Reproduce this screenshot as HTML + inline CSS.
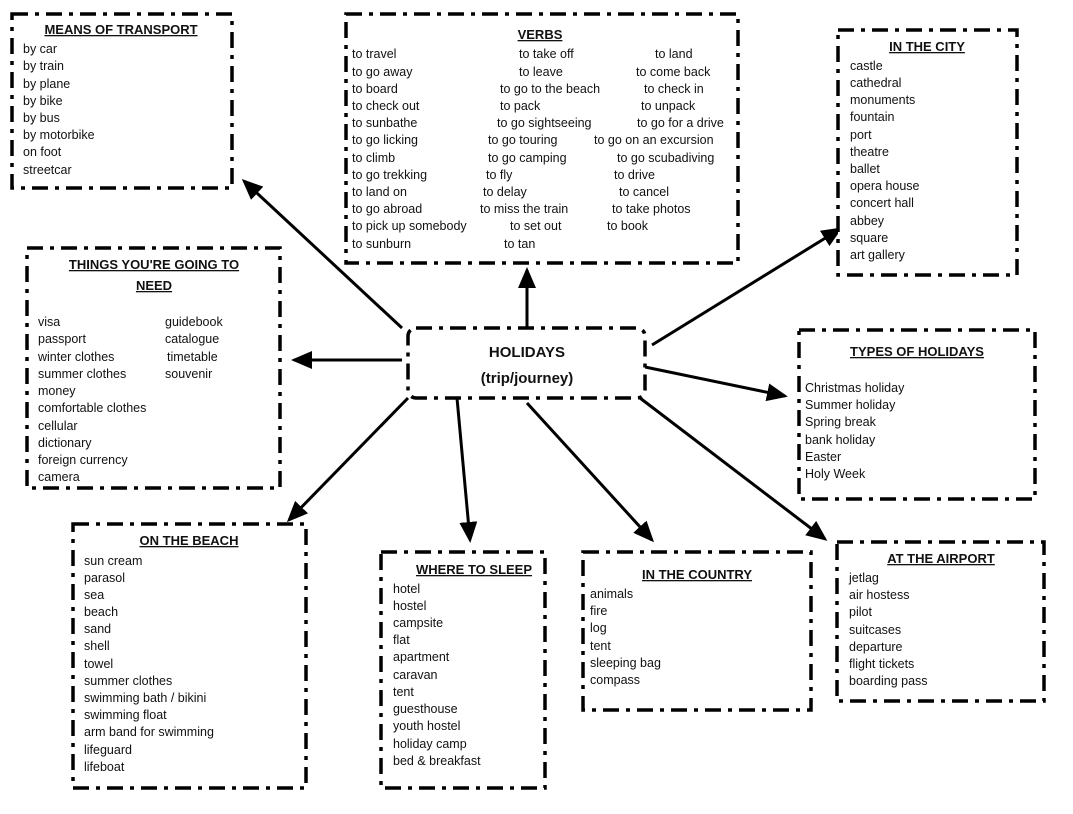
<!DOCTYPE html>
<html><head><meta charset="utf-8"><style>
html,body{margin:0;padding:0;background:#fff;}
svg{display:block}
text{font-family:"Liberation Sans",sans-serif;font-size:12.5px;fill:#111}
.t{font-weight:bold;font-size:13px;text-decoration:underline;text-anchor:middle}
.b{fill:#fff;stroke:#000;stroke-width:3.5;stroke-dasharray:16 7 4 7}
.a{stroke:#000;stroke-width:3;marker-end:url(#ah)}
</style></head><body>
<svg width="1073" height="814" viewBox="0 0 1073 814" xmlns="http://www.w3.org/2000/svg">
<defs><marker id="ah" markerWidth="8" markerHeight="8" refX="6" refY="4" orient="auto" markerUnits="strokeWidth"><path d="M0,1 L7,4 L0,7 Z" fill="#000"/></marker></defs>
<line class="a" x1="402" y1="328" x2="244" y2="181"/>
<line class="a" x1="527" y1="328" x2="527" y2="270"/>
<line class="a" x1="402" y1="360" x2="294" y2="360"/>
<line class="a" x1="652" y1="345" x2="840" y2="229"/>
<line class="a" x1="645" y1="367" x2="785" y2="396"/>
<line class="a" x1="408" y1="398" x2="289" y2="520"/>
<line class="a" x1="457" y1="398" x2="470" y2="540"/>
<line class="a" x1="527" y1="403" x2="652" y2="540"/>
<line class="a" x1="640" y1="398" x2="825" y2="539"/>

<rect class="b" x="12" y="14" width="220" height="174"/>
<text class="t" x="121" y="34">MEANS OF TRANSPORT</text>
<text x="23" y="53">by car</text><text x="23" y="70">by train</text><text x="23" y="88">by plane</text><text x="23" y="105">by bike</text><text x="23" y="122">by bus</text><text x="23" y="139">by motorbike</text><text x="23" y="156">on foot</text><text x="23" y="174">streetcar</text>

<rect class="b" x="346" y="14" width="392" height="249"/>
<text class="t" x="540" y="39">VERBS</text>
<g>
<text x="352" y="58">to travel</text><text x="519" y="58">to take off</text><text x="655" y="58">to land</text>
<text x="352" y="76">to go away</text><text x="519" y="76">to leave</text><text x="636" y="76">to come back</text>
<text x="352" y="93">to board</text><text x="500" y="93">to go to the beach</text><text x="644" y="93">to check in</text>
<text x="352" y="110">to check out</text><text x="500" y="110">to pack</text><text x="641" y="110">to unpack</text>
<text x="352" y="127">to sunbathe</text><text x="497" y="127">to go sightseeing</text><text x="637" y="127">to go for a drive</text>
<text x="352" y="144">to go licking</text><text x="488" y="144">to go touring</text><text x="594" y="144">to go on an excursion</text>
<text x="352" y="162">to climb</text><text x="488" y="162">to go camping</text><text x="617" y="162">to go scubadiving</text>
<text x="352" y="179">to go trekking</text><text x="486" y="179">to fly</text><text x="614" y="179">to drive</text>
<text x="352" y="196">to land on</text><text x="483" y="196">to delay</text><text x="619" y="196">to cancel</text>
<text x="352" y="213">to go abroad</text><text x="480" y="213">to miss the train</text><text x="612" y="213">to take photos</text>
<text x="352" y="230">to pick up somebody</text><text x="510" y="230">to set out</text><text x="607" y="230">to book</text>
<text x="352" y="248">to sunburn</text><text x="504" y="248">to tan</text>
</g>

<rect class="b" x="838" y="30" width="179" height="245"/>
<text class="t" x="927" y="51">IN THE CITY</text>
<text x="850" y="70">castle</text><text x="850" y="87">cathedral</text><text x="850" y="104">monuments</text><text x="850" y="121">fountain</text><text x="850" y="139">port</text><text x="850" y="156">theatre</text><text x="850" y="173">ballet</text><text x="850" y="190">opera house</text><text x="850" y="207">concert hall</text><text x="850" y="225">abbey</text><text x="850" y="242">square</text><text x="850" y="259">art gallery</text>

<rect class="b" x="27" y="248" width="253" height="240"/>
<text class="t" x="154" y="269">THINGS YOU'RE GOING TO</text>
<text class="t" x="154" y="290">NEED</text>
<text x="38" y="326">visa</text><text x="38" y="343">passport</text><text x="38" y="361">winter clothes</text><text x="38" y="378">summer clothes</text><text x="38" y="395">money</text><text x="38" y="412">comfortable clothes</text><text x="38" y="430">cellular</text><text x="38" y="447">dictionary</text><text x="38" y="464">foreign currency</text><text x="38" y="481">camera</text>
<text x="165" y="326">guidebook</text><text x="165" y="343">catalogue</text><text x="167" y="361">timetable</text><text x="165" y="378">souvenir</text>

<rect class="b" x="408" y="328" width="237" height="70" rx="8"/>
<text class="t" x="527" y="357" style="text-decoration:none;font-size:15px">HOLIDAYS</text>
<text class="t" x="527" y="383" style="text-decoration:none;font-size:15px">(trip/journey)</text>

<rect class="b" x="799" y="330" width="236" height="169"/>
<text class="t" x="917" y="356">TYPES OF HOLIDAYS</text>
<text x="805" y="392">Christmas holiday</text><text x="805" y="409">Summer holiday</text><text x="805" y="426">Spring break</text><text x="805" y="444">bank holiday</text><text x="805" y="461">Easter</text><text x="805" y="478">Holy Week</text>

<rect class="b" x="73" y="524" width="233" height="264"/>
<text class="t" x="189" y="545">ON THE BEACH</text>
<text x="84" y="565">sun cream</text><text x="84" y="582">parasol</text><text x="84" y="599">sea</text><text x="84" y="616">beach</text><text x="84" y="633">sand</text><text x="84" y="650">shell</text><text x="84" y="668">towel</text><text x="84" y="685">summer clothes</text><text x="84" y="702">swimming bath / bikini</text><text x="84" y="719">swimming float</text><text x="84" y="736">arm band for swimming</text><text x="84" y="754">lifeguard</text><text x="84" y="771">lifeboat</text>

<rect class="b" x="381" y="552" width="164" height="236"/>
<text class="t" x="474" y="574">WHERE TO SLEEP</text>
<text x="393" y="593">hotel</text><text x="393" y="610">hostel</text><text x="393" y="627">campsite</text><text x="393" y="644">flat</text><text x="393" y="661">apartment</text><text x="393" y="679">caravan</text><text x="393" y="696">tent</text><text x="393" y="713">guesthouse</text><text x="393" y="730">youth hostel</text><text x="393" y="748">holiday camp</text><text x="393" y="765">bed &amp; breakfast</text>

<rect class="b" x="583" y="552" width="228" height="158"/>
<text class="t" x="697" y="579">IN THE COUNTRY</text>
<text x="590" y="598">animals</text><text x="590" y="615">fire</text><text x="590" y="632">log</text><text x="590" y="650">tent</text><text x="590" y="667">sleeping bag</text><text x="590" y="684">compass</text>

<rect class="b" x="837" y="542" width="207" height="159"/>
<text class="t" x="941" y="563">AT THE AIRPORT</text>
<text x="849" y="582">jetlag</text><text x="849" y="599">air hostess</text><text x="849" y="616">pilot</text><text x="849" y="634">suitcases</text><text x="849" y="651">departure</text><text x="849" y="668">flight tickets</text><text x="849" y="685">boarding pass</text>
</svg>
</body></html>
